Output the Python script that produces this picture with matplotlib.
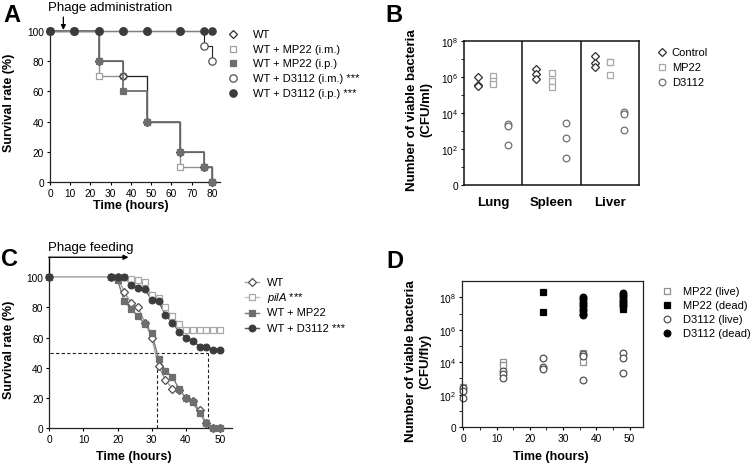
import matplotlib
matplotlib.use("Agg")
import matplotlib.pyplot as plt
import numpy as np
from matplotlib.lines import Line2D

plt.rcParams["font.family"] = ["Liberation Sans", "DejaVu Sans"]
plt.rcParams["mathtext.fontset"] = "custom"
plt.rcParams["mathtext.rm"] = "Liberation Sans"
plt.rcParams["mathtext.it"] = "Liberation Sans:italic"
plt.rcParams["mathtext.bf"] = "Liberation Sans:bold"

########################################################################
# Panel A - survival after phage administration
a_times = [0, 12, 24, 36, 48, 64, 76, 80]
a_wt = [100, 100, 80, 70, 40, 20, 10, 0]
a_mp22_im = [100, 100, 70, 70, 40, 10, 10, 0]
a_mp22_ip = [100, 100, 80, 60, 40, 20, 10, 0]
a_d3112_im = [100, 100, 100, 100, 100, 100, 90, 80]
a_d3112_ip = [100, 100, 100, 100, 100, 100, 100, 100]
a_labels = ["WT", "WT + MP22 (i.m.)", "WT + MP22 (i.p.)",
            "WT + D3112 (i.m.) ***", "WT + D3112 (i.p.) ***"]
a_phage_time = 6.6

# Panel B - bacteria in organs (log10 CFU/ml)
b_organs = ["Lung", "Spleen", "Liver"]
b_groups = ["Control", "MP22", "D3112"]
b_control = [[5.97, 5.55, 5.51], [6.43, 6.16, 5.88], [7.13, 6.75, 6.56]]
b_mp22 = [[6.03, 5.79, 5.61], [6.19, 5.74, 5.42], [6.84, 6.82, 6.10]]
b_d3112 = [[3.36, 3.29, 2.24], [3.46, 2.63, 1.51], [4.04, 3.95, 3.03]]

# Panel C - survival of flies after phage feeding
c_times = [0, 18, 20, 22, 24, 26, 28, 30, 32, 34, 36, 38, 40, 42, 44, 46, 48, 50]
c_wt = [100, 100, 100, 90, 83, 80, 70, 60, 41, 32, 26, 25, 20, 18, 12, 3, 0, 0]
c_pila = [100, 100, 100, 100, 99, 98, 97, 88, 86, 80, 74, 69, 65, 65, 65, 65, 65, 65]
c_mp22 = [100, 100, 98, 84, 79, 74, 69, 63, 46, 38, 34, 26, 20, 17, 10, 3, 0, 0]
c_d3112 = [100, 100, 100, 100, 95, 93, 92, 85, 84, 75, 70, 64, 60, 58, 54, 54, 52, 52]
c_labels = ["WT", "$\\it{pilA}$ ***", "WT + MP22", "WT + D3112 ***"]
c_median_times = [31.6, 46.5]
c_feeding_end = 23.2

# Panel D - bacteria per fly (log10 CFU/fly)
d_mp22_live_t = [0, 0, 12, 12, 36, 36]
d_mp22_live = [2.45, 2.3, 4.03, 3.82, 4.6, 4.0]
d_mp22_dead_t = [24, 24, 48, 48, 48]
d_mp22_dead = [8.35, 7.08, 7.3, 7.45, 7.6]
d_d3112_live_t = [0, 0, 0, 12, 12, 12, 24, 24, 24, 36, 36, 36, 48, 48, 48]
d_d3112_live = [2.43, 2.21, 1.79, 3.43, 3.28, 3.0, 4.24, 3.71, 3.56,
                4.5, 4.4, 2.92, 4.56, 4.24, 3.35]
d_d3112_dead_t = [36] * 9 + [48] * 6
d_d3112_dead = [8.05, 7.9, 7.75, 7.6, 7.45, 7.3, 7.15, 7.0, 6.9,
                8.3, 8.15, 8.0, 7.85, 7.7, 7.55]
d_labels = ["MP22 (live)", "MP22 (dead)", "D3112 (live)", "D3112 (dead)"]

########################################################################
W, H = 750, 464
fig = plt.figure(figsize=(W / 100, H / 100), dpi=100)


def px_axes(left, top, right, bottom):
    return fig.add_axes([left / W, 1 - bottom / H, (right - left) / W, (bottom - top) / H])


def fx(x):
    return x / W


def fy(y):
    return 1 - y / H


def legend_rows(entries, xm, xt, y0, dy, line=False, size=8):
    # entries: (label, marker, ms, face, edge, line colour)
    for i, (lab, mk, ms, fc, ec, lc) in enumerate(entries):
        y = fy(y0 + i * dy)
        if line:
            fig.add_artist(Line2D([fx(xm - 7), fx(xm + 7)], [y, y], color=lc, lw=1,
                                  transform=fig.transFigure))
        fig.add_artist(Line2D([fx(xm)], [y], marker=mk, ms=ms, mfc=fc, mec=ec, mew=0.9,
                              ls="none", transform=fig.transFigure))
        fig.text(fx(xt), y, lab, fontsize=size, va="center", ha="left")


def style_ticks(ax):
    ax.tick_params(direction="out", length=2.5, width=0.8, labelsize=7.3, pad=1.8)
    for s in ax.spines.values():
        s.set_linewidth(0.9)
        s.set_color("#222222")


########################################################################
# A
axA = px_axes(50, 32.3, 220, 182.7)
a_style = [
    # y, marker, ms, face, edge, line colour, lw, zorder
    (a_mp22_im, "s", 5, "white", "#a0a0a0", "#909090", 1.0, 3),
    (a_wt, "D", 4, "white", "#303030", "#202020", 0.8, 4),
    (a_mp22_ip, "s", 5, "#6e6e6e", "#6e6e6e", "#6e6e6e", 1.3, 5),
    (a_d3112_im, "o", 5.3, "white", "#505050", "#202020", 0.8, 6),
    (a_d3112_ip, "o", 5.3, "#3c3c3c", "#3c3c3c", "#808080", 1.0, 7),
]
for y, mk, ms, fc, ec, lc, lw, z in a_style:
    axA.plot(a_times, y, drawstyle="steps-post", color=lc, lw=lw, zorder=z, clip_on=False)
    axA.plot(a_times, y, ls="none", marker=mk, ms=ms, mfc=fc, mec=ec, mew=0.9,
             zorder=z + 0.5, clip_on=False)
axA.set_xlim(0, 84)
axA.set_ylim(0, 100)
axA.set_xticks(range(0, 81, 10))
axA.set_yticks(range(0, 101, 20))
axA.spines["top"].set_visible(False)
axA.spines["right"].set_visible(False)
style_ticks(axA)
axA.annotate("", xy=(a_phage_time, 100.9), xytext=(a_phage_time, 109.5),
             arrowprops=dict(arrowstyle="-|>", color="black", lw=0.9,
                             mutation_scale=7, shrinkA=0, shrinkB=0),
             annotation_clip=False)
fig.text(fx(47.7), fy(8), "Phage administration", fontsize=9.5, ha="left", va="center")
fig.text(fx(131), fy(206), "Time (hours)", fontsize=9, weight="bold", ha="center", va="center")
fig.text(fx(9), fy(102.5), "Survival rate (%)", fontsize=9, weight="bold",
         rotation=90, ha="center", va="center")
legend_rows([
    (a_labels[0], "D", 4, "white", "#303030", None),
    (a_labels[1], "s", 5, "white", "#a0a0a0", None),
    (a_labels[2], "s", 5, "#6e6e6e", "#6e6e6e", None),
    (a_labels[3], "o", 5.3, "white", "#505050", None),
    (a_labels[4], "o", 5.3, "#3c3c3c", "#3c3c3c", None),
], 233, 252.7, 35, 14.7)

# B
axB = px_axes(464, 41.7, 639, 186)
b_style = [
    (b_control, 0.24, "D", 3.8, "#303030"),
    (b_mp22, 0.50, "s", 5, "#a8a8a8"),
    (b_d3112, 0.75, "o", 4.8, "#707070"),
]
for vals, off, mk, ms, ec in b_style:
    for i, organ_vals in enumerate(vals):
        axB.plot([i + off] * len(organ_vals), 10.0 ** np.array(organ_vals), ls="none",
                 marker=mk, ms=ms, mfc="white", mec=ec, mew=0.9)
axB.set_yscale("log")
axB.set_ylim(1, 1e8)
axB.set_xlim(0, 3)
for xv in [1, 2]:
    axB.axvline(xv, color="#111111", lw=1.1)
axB.set_xticks([0.5, 1.5, 2.5])
axB.set_xticklabels(b_organs, fontsize=9.5, weight="bold")
axB.set_yticks([1, 1e2, 1e4, 1e6, 1e8])
axB.set_yticklabels(["0", "$\\mathregular{10^2}$", "$\\mathregular{10^4}$",
                     "$\\mathregular{10^6}$", "$\\mathregular{10^8}$"])
axB.set_yticks([10, 1e3, 1e5, 1e7], minor=True)
axB.yaxis.set_minor_formatter(plt.NullFormatter())
style_ticks(axB)
axB.tick_params(axis="x", length=0, pad=8, labelsize=9.5)
axB.tick_params(axis="y", which="minor", length=2, width=0.6, direction="out")
for s in axB.spines.values():
    s.set_linewidth(1.1)
    s.set_color("#111111")
fig.text(fx(419), fy(110), "Number of viable bacteria\n(CFU/ml)", fontsize=9.5,
         weight="bold", rotation=90, ha="center", va="center", multialignment="center",
         linespacing=1.25)
legend_rows([
    (b_groups[0], "D", 3.8, "white", "#303030", None),
    (b_groups[1], "s", 5, "white", "#a8a8a8", None),
    (b_groups[2], "o", 4.8, "white", "#707070", None),
], 662, 671.7, 53.3, 14.7)

# C
axC = px_axes(49.3, 278.3, 232, 429)
c_style = [
    # y, marker, ms, face, edge, line colour, lw, line z, marker z
    (c_wt, "D", 3.6, "white", "#505050", "#a0a0a0", 1.0, 2.2, 4),
    (c_pila, "s", 4.6, "white", "#a8a8a8", "#c4c4c4", 1.0, 2.3, 5),
    (c_mp22, "s", 4.6, "#6e6e6e", "#6e6e6e", "#7a7a7a", 1.0, 2.1, 6),
    (c_d3112, "o", 4.8, "#3c3c3c", "#3c3c3c", "#555555", 1.0, 2.0, 7),
]
for y, mk, ms, fc, ec, lc, lw, zl, zm in c_style:
    axC.plot(c_times, y, color=lc, lw=lw, zorder=zl, clip_on=False)
    axC.plot(c_times, y, ls="none", marker=mk, ms=ms, mfc=fc, mec=ec, mew=0.9,
             zorder=zm, clip_on=False)
axC.plot([0.3, c_median_times[1]], [50, 50], ls=(0, (3, 2)), color="#222222", lw=0.8)
for t in c_median_times:
    axC.plot([t, t], [0, 50], ls=(0, (3, 2)), color="#222222", lw=0.8)
axC.set_xlim(0, 53.5)
axC.set_ylim(0, 100)
axC.set_xticks(range(0, 51, 10))
axC.set_yticks(range(0, 101, 20))
axC.spines["top"].set_visible(False)
axC.spines["right"].set_visible(False)
style_ticks(axC)
axC.plot([0, 0], [100, 113.3], color="black", lw=1, clip_on=False)
axC.annotate("", xy=(c_feeding_end, 113.3), xytext=(-0.15, 113.3),
             arrowprops=dict(arrowstyle="-|>", color="black", lw=1,
                             mutation_scale=7, shrinkA=0, shrinkB=0),
             annotation_clip=False)
fig.text(fx(47.7), fy(248), "Phage feeding", fontsize=9.5, ha="left", va="center")
fig.text(fx(134), fy(457), "Time (hours)", fontsize=9, weight="bold", ha="center", va="center")
fig.text(fx(9), fy(349.5), "Survival rate (%)", fontsize=9, weight="bold",
         rotation=90, ha="center", va="center")
legend_rows([
    (c_labels[0], "D", 3.6, "white", "#505050", "#a0a0a0"),
    (c_labels[1], "s", 4.6, "white", "#a8a8a8", "#c4c4c4"),
    (c_labels[2], "s", 4.6, "#6e6e6e", "#6e6e6e", "#7a7a7a"),
    (c_labels[3], "o", 4.8, "#3c3c3c", "#3c3c3c", "#555555"),
], 251.7, 267, 283.3, 15.1, line=True)

# D
axD = px_axes(462.3, 282.3, 643.3, 428)
d_style = [
    (d_mp22_live_t, d_mp22_live, "s", 4.6, "white", "#909090"),
    (d_mp22_dead_t, d_mp22_dead, "s", 4.6, "black", "black"),
    (d_d3112_live_t, d_d3112_live, "o", 4.8, "white", "#505050"),
    (d_d3112_dead_t, d_d3112_dead, "o", 4.8, "black", "black"),
]
for t, v, mk, ms, fc, ec in d_style:
    axD.plot(t, 10.0 ** np.array(v), ls="none", marker=mk, ms=ms, mfc=fc, mec=ec,
             mew=0.9, clip_on=False)
axD.set_yscale("log")
axD.set_ylim(1, 1e9)
axD.set_xlim(-0.3, 54.1)
axD.set_xticks(range(0, 51, 10))
axD.set_xticks(range(5, 55, 10), minor=True)
axD.set_yticks([1, 1e2, 1e4, 1e6, 1e8])
axD.set_yticklabels(["0", "$\\mathregular{10^2}$", "$\\mathregular{10^4}$",
                     "$\\mathregular{10^6}$", "$\\mathregular{10^8}$"])
axD.set_yticks([10, 1e3, 1e5, 1e7], minor=True)
axD.yaxis.set_minor_formatter(plt.NullFormatter())
style_ticks(axD)
axD.tick_params(which="minor", length=2, width=0.6, direction="out")
fig.text(fx(551), fy(457), "Time (hours)", fontsize=9, weight="bold", ha="center", va="center")
fig.text(fx(418), fy(361), "Number of viable bacteria\n(CFU/fly)", fontsize=9.5,
         weight="bold", rotation=90, ha="center", va="center", multialignment="center",
         linespacing=1.25)
legend_rows([
    (d_labels[0], "s", 4.6, "white", "#909090", None),
    (d_labels[1], "s", 4.6, "black", "black", None),
    (d_labels[2], "o", 4.8, "white", "#505050", None),
    (d_labels[3], "o", 4.8, "black", "black", None),
], 666.7, 683.3, 291.7, 14.2)

# Panel letters
for letter, x, y in [("A", 12, 16), ("B", 394, 16), ("C", 10, 259), ("D", 395, 262)]:
    fig.text(fx(x), fy(y), letter, fontsize=17, weight="bold", ha="center", va="center")

fig.savefig("out.png", dpi=100)
